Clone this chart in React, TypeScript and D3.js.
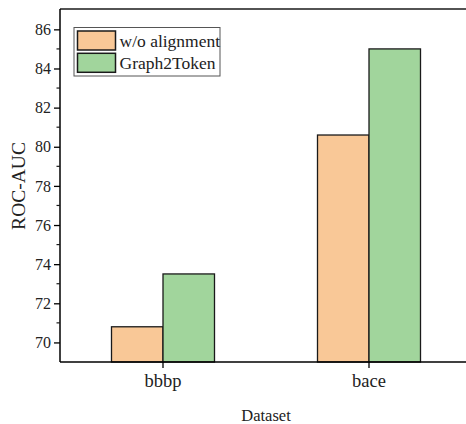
import React, { useEffect, useRef } from 'react';
import * as d3 from 'd3';

const datasets = ['bbbp', 'bace'];
const seriesNames = ['w/o alignment', 'Graph2Token'];
const withoutAlignment = [70.8, 80.6];
const graph2Token = [73.5, 85.0];
const yTicks = [70, 72, 74, 76, 78, 80, 82, 84, 86];
const yMinorTicks = [71, 73, 75, 77, 79, 81, 83, 85];

const colors = ['#F9C897', '#A1D59C'];
const font = 'Liberation Serif, Times New Roman, serif';

const App = () => {
  const ref = useRef<SVGSVGElement>(null);

  useEffect(() => {
    const width = 466;
    const height = 424;
    const margin = { top: 9, left: 60, right: -6, bottom: 62 };

    const svg = d3.select(ref.current);
    svg.selectAll('*').remove();

    const x = d3
      .scaleBand()
      .domain(datasets)
      .range([margin.left, width - margin.right])
      .paddingInner(0)
      .paddingOuter(0);

    const x1 = d3
      .scaleBand()
      .domain(seriesNames)
      .range([x.bandwidth() * 0.25, x.bandwidth() * 0.75]);

    const y = d3
      .scaleLinear()
      .domain([69, 87.04])
      .range([height - margin.bottom, margin.top]);

    // Bars
    const series = [withoutAlignment, graph2Token];
    series.forEach((vals, si) => {
      svg
        .append('g')
        .selectAll('rect')
        .data(vals)
        .enter()
        .append('rect')
        .attr('x', (_, i) => x(datasets[i])! + x1(seriesNames[si])!)
        .attr('y', (d) => y(d))
        .attr('width', x1.bandwidth())
        .attr('height', (d) => y(69) - y(d))
        .style('fill', colors[si])
        .style('stroke', '#1a1a1a')
        .style('stroke-width', 1.3);
    });

    // Frame top
    svg
      .append('line')
      .attr('x1', margin.left)
      .attr('x2', width)
      .attr('y1', margin.top)
      .attr('y2', margin.top)
      .style('stroke', '#1a1a1a')
      .style('stroke-width', 1.5);

    // Y axis
    const yAxis = svg
      .append('g')
      .attr('transform', `translate(${margin.left},0)`)
      .call(
        d3
          .axisLeft(y)
          .tickValues(yTicks)
          .tickSize(6)
          .tickPadding(3)
          .tickFormat(d3.format('d'))
      )
      .attr('font-family', font)
      .attr('font-size', 16);
    yAxis.select('.domain').style('stroke-width', 1.5).attr('d', `M0,${margin.top}V${height - margin.bottom}`);
    yAxis.selectAll('line').style('stroke-width', 1.3);
    yAxis.selectAll('text').attr('fill', '#222');

    svg
      .append('g')
      .selectAll('line')
      .data(yMinorTicks)
      .enter()
      .append('line')
      .attr('x1', margin.left - 3.5)
      .attr('x2', margin.left)
      .attr('y1', (d) => y(d))
      .attr('y2', (d) => y(d))
      .style('stroke', '#1a1a1a')
      .style('stroke-width', 1.2);

    // X axis
    const xAxis = svg
      .append('g')
      .attr('transform', `translate(0,${height - margin.bottom})`)
      .call(d3.axisBottom(x).tickSize(6).tickPadding(6))
      .attr('font-family', font)
      .attr('font-size', 18.5);
    xAxis.select('.domain').style('stroke-width', 1.5).attr('d', `M${margin.left},0H${width}`);
    xAxis.selectAll('line').style('stroke-width', 1.3);
    xAxis.selectAll('text').attr('fill', '#222');

    // Axis titles
    svg
      .append('text')
      .attr('transform', `translate(25,186) rotate(-90)`)
      .attr('text-anchor', 'middle')
      .attr('font-family', font)
      .attr('font-size', 19.5)
      .attr('fill', '#222')
      .text('ROC-AUC');

    svg
      .append('text')
      .attr('x', 266)
      .attr('y', 421)
      .attr('text-anchor', 'middle')
      .attr('font-family', font)
      .attr('font-size', 16.5)
      .attr('fill', '#222')
      .text('Dataset');

    // Legend
    const legend = svg.append('g').attr('transform', 'translate(74,27.5)');
    legend
      .append('rect')
      .attr('width', 146)
      .attr('height', 48.5)
      .style('fill', 'white')
      .style('stroke', '#555')
      .style('stroke-width', 1);
    seriesNames.forEach((name, i) => {
      legend
        .append('rect')
        .attr('x', 3.5)
        .attr('y', 3.5 + i * 22.3)
        .attr('width', 38)
        .attr('height', 19)
        .style('fill', colors[i])
        .style('stroke', '#1a1a1a')
        .style('stroke-width', 1.5);
      legend
        .append('text')
        .attr('x', 45.5)
        .attr('y', 19 + i * 22.3)
        .attr('font-family', font)
        .attr('font-size', 17.5)
        .attr('fill', '#222')
        .text(name);
    });
  }, []);

  return (
    <svg
      ref={ref}
      width={466}
      height={424}
      fontFamily={font}
      style={{ position: 'absolute', left: 0, top: 0, background: 'white' }}
    />
  );
};

export default App;
